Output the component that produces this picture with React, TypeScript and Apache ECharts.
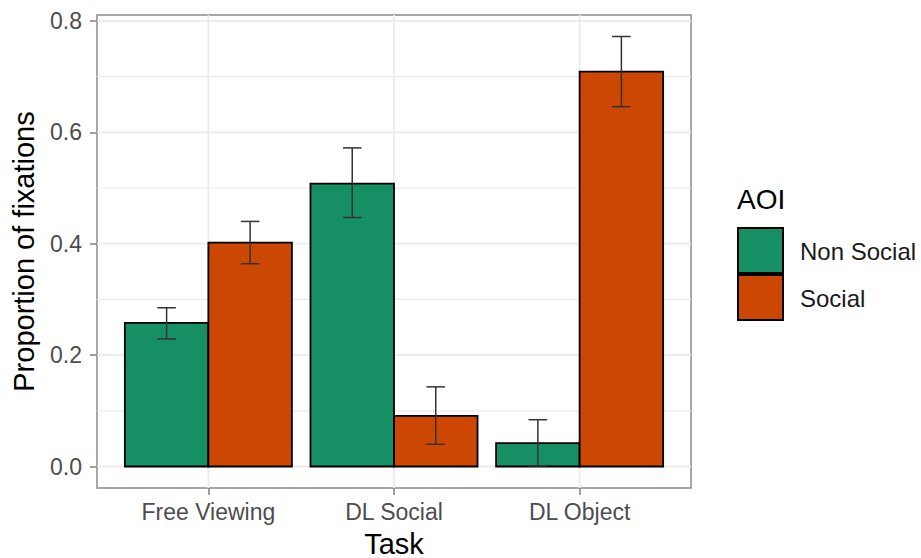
import React, { useEffect, useRef } from "react";
import * as echarts from "echarts";

const categories = ["Free Viewing", "DL Social", "DL Object"];
const nonSocial = [0.258, 0.508, 0.042];
const nonSocialLo = [0.229, 0.447, 0.001];
const nonSocialHi = [0.285, 0.572, 0.084];
const social = [0.402, 0.091, 0.709];
const socialLo = [0.364, 0.04, 0.646];
const socialHi = [0.44, 0.143, 0.772];
const yTicks = [0, 0.2, 0.4, 0.6, 0.8];
const yMinor = [0.1, 0.3, 0.5, 0.7];

const GREEN = "#178F65";
const ORANGE = "#CC4802";
const FONT = "Liberation Sans, Arial, sans-serif";

export default function App() {
  const ref = useRef<HTMLDivElement>(null);
  useEffect(() => {
    if (!ref.current) return;
    const chart = echarts.init(ref.current, undefined, { renderer: "svg" });
    const xs = categories.map((_, i) => i + 1);
    const XMIN = 0.4;
    const XMAX = 3.6;
    const YMIN = -0.0386;
    const YMAX = 0.8106;

    const gridData: any[] = [];
    yTicks.forEach((v) => gridData.push([v, 0]));
    yMinor.forEach((v) => gridData.push([v, 1]));
    xs.forEach((v) => gridData.push([v, 2]));

    const barSeries = (vals: number[], offset: number, color: string, name: string) => ({
      type: "custom",
      name,
      z: 3,
      data: xs.map((x, i) => [x, vals[i]]),
      encode: { x: 0, y: 1 },
      renderItem: (params: any, api: any) => {
        const x = api.value(0);
        const v = api.value(1);
        const p1 = api.coord([x + offset, v]);
        const p2 = api.coord([x + offset + 0.45, 0]);
        return {
          type: "rect",
          shape: { x: p1[0], y: p1[1], width: p2[0] - p1[0], height: p2[1] - p1[1] },
          style: { fill: color, stroke: "#000", lineWidth: 1.8 },
        };
      },
    });

    const errData: any[] = [];
    xs.forEach((x, i) => {
      errData.push([x - 0.225, nonSocialLo[i], nonSocialHi[i]]);
      errData.push([x + 0.225, socialLo[i], socialHi[i]]);
    });

    const option: any = {
      animation: false,
      backgroundColor: "#fff",
      grid: {
        left: 97,
        right: 230,
        top: 15,
        bottom: 70,
        show: true,
        borderColor: "#8a8a8a",
        borderWidth: 1.5,
        backgroundColor: "#fff",
        containLabel: false,
        outerBoundsMode: "none",
      },
      xAxis: {
        type: "value",
        min: XMIN,
        max: XMAX,
        name: "Task",
        nameLocation: "middle",
        nameGap: 41,
        nameTextStyle: { fontSize: 29, color: "#000", fontFamily: FONT },
        axisLine: { show: false, onZero: false },
        axisTick: { show: true, length: 7, customValues: xs, lineStyle: { color: "#7f7f7f", width: 1.5 } },
        axisLabel: {
          customValues: xs,
          margin: 12,
          fontSize: 23,
          color: "#4d4d4d",
          fontFamily: FONT,
          formatter: (v: number) => categories[Math.round(v) - 1] ?? "",
        },
        splitLine: { show: false },
      },
      yAxis: {
        type: "value",
        min: YMIN,
        max: YMAX,
        name: "Proportion of fixations",
        nameLocation: "middle",
        nameGap: 59,
        nameTextStyle: { fontSize: 29, color: "#000", fontFamily: FONT },
        axisLine: { show: false, onZero: false },
        axisTick: { show: true, length: 7, customValues: yTicks, lineStyle: { color: "#7f7f7f", width: 1.5 } },
        axisLabel: {
          customValues: yTicks,
          margin: 15,
          fontSize: 23,
          color: "#4d4d4d",
          fontFamily: FONT,
          formatter: (v: number) => v.toFixed(1),
        },
        splitLine: { show: false },
      },
      series: [
        {
          type: "custom",
          name: "grid",
          z: 1,
          silent: true,
          data: gridData,
          renderItem: (params: any, api: any) => {
            const v = api.value(0);
            const kind = api.value(1);
            let a, b;
            if (kind === 2) {
              a = api.coord([v, YMIN]);
              b = api.coord([v, YMAX]);
            } else {
              a = api.coord([XMIN, v]);
              b = api.coord([XMAX, v]);
            }
            return {
              type: "line",
              shape: { x1: a[0], y1: a[1], x2: b[0], y2: b[1] },
              style: { stroke: "#ebebeb", lineWidth: kind === 1 ? 1.2 : 1.8 },
            };
          },
        },
        barSeries(nonSocial, -0.45, GREEN, "Non Social"),
        barSeries(social, 0, ORANGE, "Social"),
        {
          type: "custom",
          name: "errors",
          z: 4,
          data: errData,
          encode: { x: 0, y: [1, 2] },
          renderItem: (params: any, api: any) => {
            const x = api.value(0);
            const lo = api.value(1);
            const hi = api.value(2);
            const pl = api.coord([x, lo]);
            const ph = api.coord([x, hi]);
            const cl = api.coord([x - 0.05, lo]);
            const cr = api.coord([x + 0.05, lo]);
            const style = { stroke: "#333", lineWidth: 1.5 };
            return {
              type: "group",
              children: [
                { type: "line", shape: { x1: pl[0], y1: pl[1], x2: ph[0], y2: ph[1] }, style },
                { type: "line", shape: { x1: cl[0], y1: ph[1], x2: cr[0], y2: ph[1] }, style },
                { type: "line", shape: { x1: cl[0], y1: pl[1], x2: cr[0], y2: pl[1] }, style },
              ],
            };
          },
        },
      ],
      graphic: [
        {
          type: "text",
          x: 737,
          y: 199,
          style: { text: "AOI", fontSize: 28, fontFamily: FONT, fill: "#000", verticalAlign: "middle" },
        },
        {
          type: "rect",
          shape: { x: 738, y: 228, width: 45, height: 45 },
          style: { fill: GREEN, stroke: "#000", lineWidth: 2 },
        },
        {
          type: "rect",
          shape: { x: 738, y: 275, width: 45, height: 45 },
          style: { fill: ORANGE, stroke: "#000", lineWidth: 2 },
        },
        {
          type: "text",
          x: 800,
          y: 251,
          style: { text: "Non Social", fontSize: 24, fontFamily: FONT, fill: "#1a1a1a", verticalAlign: "middle" },
        },
        {
          type: "text",
          x: 800,
          y: 298,
          style: { text: "Social", fontSize: 24, fontFamily: FONT, fill: "#1a1a1a", verticalAlign: "middle" },
        },
      ],
    };
    chart.setOption(option);
    return () => chart.dispose();
  }, []);
  return (
    <div
      ref={ref}
      style={{ position: "fixed", left: 0, top: 0, width: 921, height: 558, background: "#fff" }}
    />
  );
}
